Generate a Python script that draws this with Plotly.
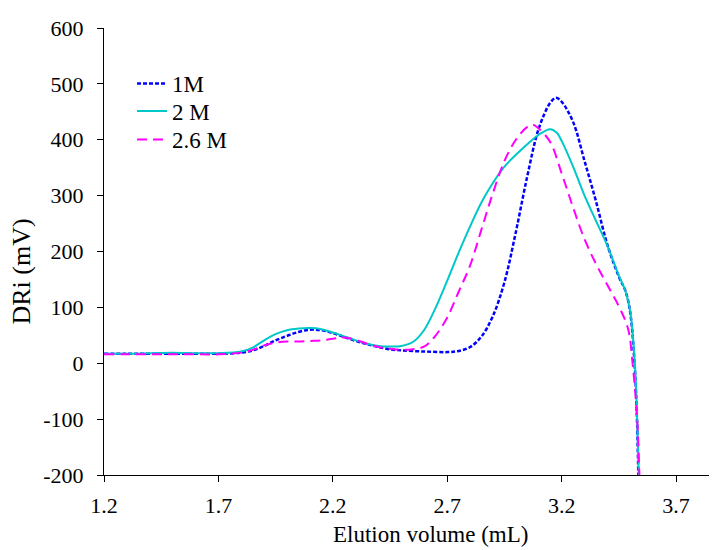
import plotly.graph_objects as go

# Elution volume (mL) and DRi (mV) for each series
x_1m = [1.2, 1.3, 1.4, 1.5, 1.6, 1.7, 1.8, 1.85, 1.9, 1.95, 2.0, 2.05, 2.1, 2.15, 2.2, 2.25, 2.3, 2.35, 2.4, 2.45, 2.5, 2.6, 2.7, 2.75, 2.8, 2.85, 2.9, 2.95, 3.0, 3.05, 3.1, 3.15, 3.175, 3.2, 3.25, 3.3, 3.35, 3.4, 3.45, 3.48, 3.5, 3.52, 3.53, 3.535]
y_1m = [17, 17, 17, 17, 17, 17, 19, 23, 31, 41, 49, 56, 60, 59, 54, 47, 40, 34, 29, 25, 23, 21, 20, 22, 29, 48, 85, 145, 235, 335, 420, 466, 475, 468, 432, 362, 290, 212, 155, 128, 90, -10, -110, -200]

x_2m = [1.2, 1.3, 1.4, 1.5, 1.6, 1.7, 1.8, 1.85, 1.9, 1.95, 2.0, 2.05, 2.1, 2.15, 2.2, 2.25, 2.3, 2.35, 2.4, 2.45, 2.5, 2.55, 2.6, 2.65, 2.7, 2.75, 2.8, 2.85, 2.9, 2.95, 3.0, 3.05, 3.1, 3.15, 3.18, 3.2, 3.25, 3.3, 3.35, 3.4, 3.45, 3.48, 3.5, 3.52, 3.53, 3.537]
y_2m = [17, 17, 18, 19, 18, 18, 21, 28, 41, 52, 59, 62, 63, 61, 55, 48, 41, 35, 31, 30, 31, 38, 60, 100, 148, 198, 245, 288, 323, 352, 373, 392, 409, 419, 412, 398, 352, 300, 255, 210, 157, 128, 92, 0, -100, -200]

x_26m = [1.2, 1.3, 1.4, 1.5, 1.6, 1.7, 1.8, 1.85, 1.9, 1.95, 2.0, 2.05, 2.1, 2.15, 2.2, 2.25, 2.3, 2.35, 2.4, 2.45, 2.5, 2.55, 2.6, 2.65, 2.7, 2.75, 2.8, 2.85, 2.9, 2.95, 3.0, 3.05, 3.075, 3.1, 3.15, 3.2, 3.25, 3.3, 3.35, 3.4, 3.45, 3.49, 3.51, 3.53, 3.54]
y_26m = [16, 16, 16, 16, 16, 16, 19, 24, 32, 37, 39, 39, 40, 41, 44, 46, 42, 35, 29, 26, 24, 25, 30, 50, 82, 128, 175, 240, 305, 362, 400, 423, 427, 420, 396, 340, 279, 222, 178, 140, 102, 62, 0, -100, -200]

names = ["1M", "2 M", "2.6 M"]
x_ticks = [1.2, 1.7, 2.2, 2.7, 3.2, 3.7]
y_ticks = [-200, -100, 0, 100, 200, 300, 400, 500, 600]

FONT = "Liberation Serif, Times New Roman, serif"

fig = go.Figure()
fig.add_trace(go.Scatter(x=x_1m, y=y_1m, name=names[0], mode="lines",
                         line=dict(color="#0000FF", width=2.5, dash="4px,2px", shape="spline", smoothing=1),
                         legend="legend"))
fig.add_trace(go.Scatter(x=x_2m, y=y_2m, name=names[1], mode="lines",
                         line=dict(color="#00C8C8", width=2, shape="spline", smoothing=1),
                         legend="legend2"))
fig.add_trace(go.Scatter(x=x_26m, y=y_26m, name=names[2], mode="lines",
                         line=dict(color="#FF00FF", width=2, dash="10px,6px", shape="spline", smoothing=1),
                         legend="legend3"))

leg_common = dict(x=0.0457, xanchor="left", yanchor="middle", bgcolor="rgba(0,0,0,0)",
                  font=dict(size=23, family=FONT), itemwidth=30)

fig.update_layout(
    width=717, height=550,
    margin=dict(l=96, r=8, t=12, b=83),
    paper_bgcolor="white", plot_bgcolor="white",
    font=dict(family=FONT, size=22, color="black"),
    showlegend=True,
    legend=dict(y=0.8757, **leg_common),
    legend2=dict(y=0.8143, **leg_common),
    legend3=dict(y=0.7506, **leg_common),
    xaxis=dict(range=[1.2, 3.879], tickvals=x_ticks, ticktext=[f"{v:.1f}" for v in x_ticks],
               showgrid=False, zeroline=False, showline=True, linecolor="black", linewidth=1,
               ticks="outside", ticklen=6, tickcolor="black", ticklabelstandoff=5,
               ticklabeloverflow="allow",
               tickfont=dict(size=22, family=FONT)),
    yaxis=dict(range=[-200, 600], tickvals=y_ticks, ticktext=[str(v) for v in y_ticks],
               showgrid=False, zeroline=False,
               showline=True, linecolor="black", linewidth=1,
               ticks="outside", ticklen=6, tickcolor="black", ticklabelstandoff=9,
               ticklabeloverflow="allow",
               tickfont=dict(size=22, family=FONT)),
    annotations=[
        dict(text="Elution volume (mL)", xref="paper", yref="paper", x=0.5334, y=-0.134,
             xanchor="center", yanchor="middle", showarrow=False,
             font=dict(size=23, family=FONT)),
        dict(text="DRi (mV)", xref="paper", yref="paper", x=-0.1338, y=0.455,
             xanchor="center", yanchor="middle", showarrow=False, textangle=-90,
             font=dict(size=26, family=FONT)),
    ],
)

fig.write_html("out.html")
